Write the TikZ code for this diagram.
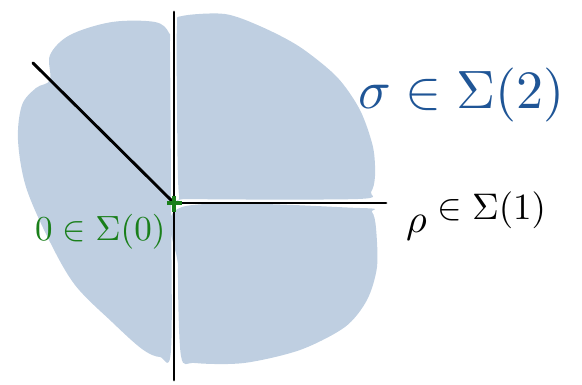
\documentclass[tikz,border=0pt]{standalone}
\usetikzlibrary{calc}
\definecolor{conefill}{HTML}{BFCFE1}
\definecolor{conetext}{HTML}{1F5596}
\definecolor{origgreen}{HTML}{1A7F1A}
\tikzset{
  blob/.style={fill=conefill, draw=none},
  axisline/.style={line width=2.9pt, black, line cap=round},
  lbl/.style={inner sep=0pt, anchor=base west}
}
\begin{document}
\begin{tikzpicture}[x=1pt,y=-1pt]
\useasboundingbox (0,0) rectangle (582,384);
% cones (hand-drawn blobs)
\fill[blob] plot[smooth cycle, tension=0.55] coordinates {
 (50,55) (70,35) (112,22) (155,22) (169,33) (170,52) (171,200) (171,350)
 (160,357) (142,349) (112,322) (75,285) (49,240) (26,187) (18,140) (22,105)
 (36,88) (50,80)};
\fill[blob] plot[smooth cycle, tension=0.5] coordinates {
 (182,16) (225,14) (262,27) (300,47) (337,77) (360,110) (373,147) (375,176)
 (371,192) (358,199) (190,199) (179,195) (177,100) (177,26)};
\fill[blob] plot[smooth cycle, tension=0.5] coordinates {
 (182,207) (360,208) (372,212) (376,228) (377,267) (367,300) (345,327) (300,350)
 (244,363) (195,363) (181,356) (178,267)};
% rays
\coordinate (O) at (174,203);
\coordinate (vtop) at (174,12);
\coordinate (vbot) at (174,380);
\coordinate (hend) at (386,203);
\coordinate (dend) at (33,63);
\draw[axisline] (vtop) -- (vbot);
\draw[axisline] (O) -- (hend);
\draw[axisline] (O) -- (dend);
% origin mark
\draw[origgreen, line width=3.5pt] ($(O)+(-7,0)$) -- ($(O)+(8,0)$);
\draw[origgreen, line width=3.5pt] ($(O)+(0,-7)$) -- ($(O)+(0,9)$);
% labels
\node[lbl, text=conetext] (sig) at (358,108) {\scalebox{5.4}{$\sigma\in\Sigma(2)$}};
\node[lbl] (rho) at (406,232) {\scalebox{4.0}{$\rho$}};
\node[lbl] (ray) at (437,219) {\scalebox{3.7}{$\in\Sigma(1)$}};
\node[lbl, text=origgreen] (zero) at (35,240) {\scalebox{3.5}{$0\in\Sigma(0)$}};
\end{tikzpicture}
\end{document}
